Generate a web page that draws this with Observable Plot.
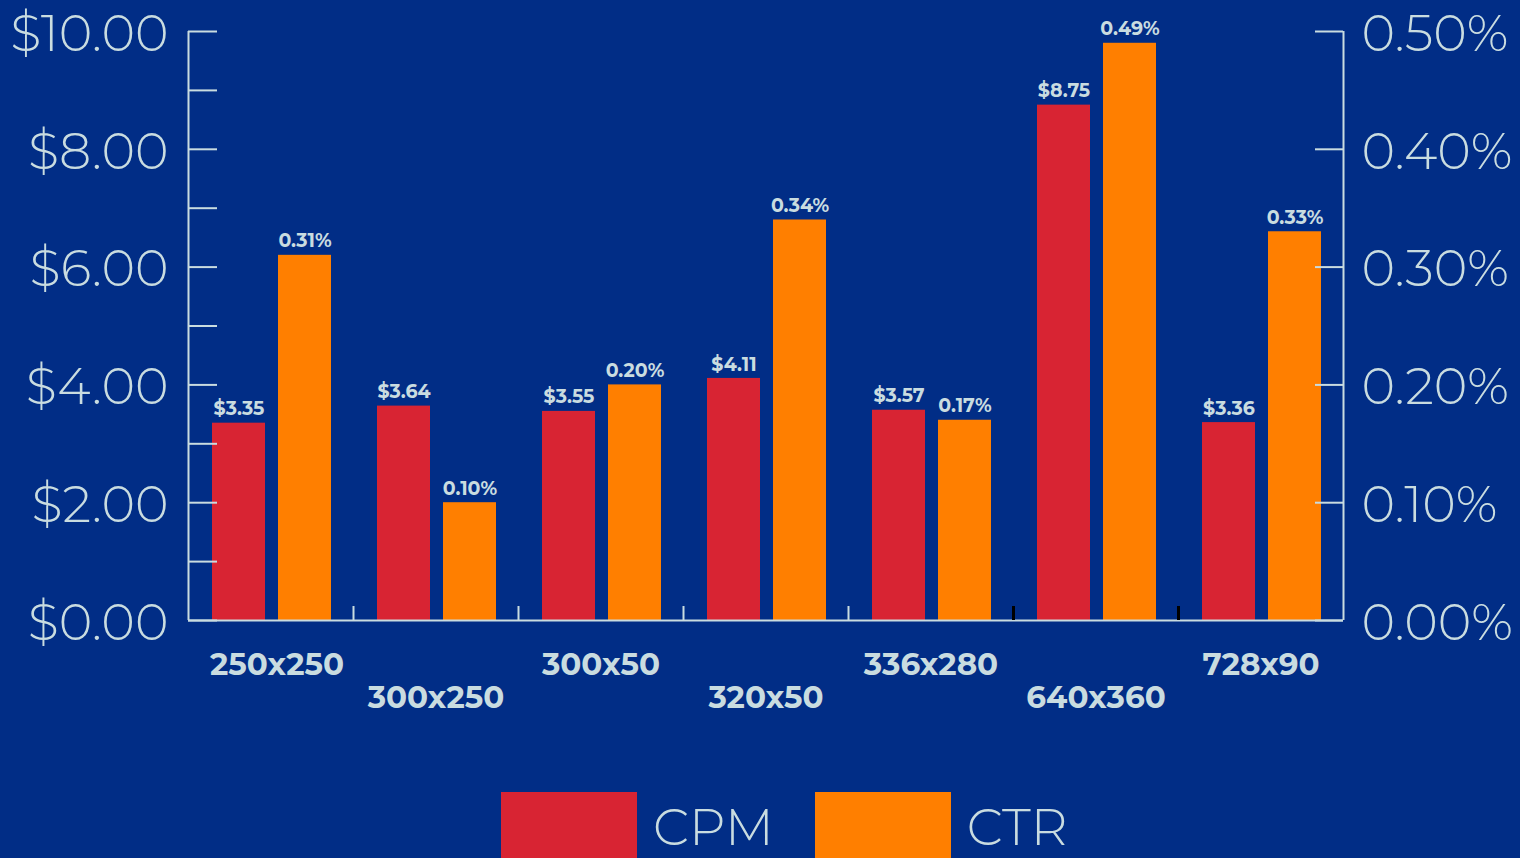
<!DOCTYPE html>
<html><head><meta charset="utf-8">
<script src="https://cdn.jsdelivr.net/npm/d3@7"></script>
<script src="https://cdn.jsdelivr.net/npm/@observablehq/plot@0.6"></script>
<style>
html,body{margin:0;padding:0;background:#012D86;overflow:hidden}
#wrap{position:relative;width:1520px;height:858px;font-family:Montserrat, Inter, sans-serif;}
#chart svg{display:block}
.legend{position:absolute;left:501px;top:792px;display:flex;align-items:center}
.sw{width:136px;height:70px}
.lab{color:#C9DCE0;font-size:51px;font-weight:300;margin-left:16px;margin-right:41px;line-height:1}
</style></head><body><div id="wrap"><div id="chart"></div><div class="legend" id="legend"></div></div>
<script>
const sizes = ["250x250","300x250","300x50","320x50","336x280","640x360","728x90"];
const cpm = [3.35, 3.64, 3.55, 4.11, 3.57, 8.75, 3.36];
const ctr = [0.31, 0.10, 0.20, 0.34, 0.17, 0.49, 0.33];
const cpmTicks = [0, 2, 4, 6, 8, 10];
const cpmMinorTicks = [0, 1, 2, 3, 4, 5, 6, 7, 8, 9, 10];
const ctrTicks = [0, 0.1, 0.2, 0.3, 0.4, 0.5];
const seriesNames = ["CPM", "CTR"];
const seriesColors = ["#D82433", "#FF7F00"];

const light = "#C9DCE0";
const W = 1520, H = 760, mL = 188, mR = 177, mT = 31, mB = 140;
const frameW = W - mL - mR, frameH = H - mT - mB;
const bw = frameW / sizes.length;
const cpmMax = 10, ctrMax = 0.5;
const ctrToY = v => v * cpmMax / ctrMax;

const rows = sizes.map((s, i) => ({size: s, cpm: cpm[i], ctr: ctr[i], i}));

const plot = Plot.plot({
  width: W, height: H,
  marginLeft: mL, marginRight: mR, marginTop: mT, marginBottom: mB,
  style: {background: "transparent", fontFamily: "Montserrat, Inter, sans-serif", color: light},
  x: {domain: sizes, padding: 0, axis: null},
  y: {domain: [0, cpmMax], axis: null},
  marks: [
    Plot.barY(rows, {x: "size", y: "cpm", fill: seriesColors[0], insetLeft: 24, insetRight: bw - 77}),
    Plot.barY(rows, {x: "size", y: d => ctrToY(d.ctr), fill: seriesColors[1], insetLeft: 90, insetRight: bw - 143}),
    Plot.text(rows, {x: "size", y: "cpm", text: d => "$" + d.cpm.toFixed(2), dx: 50.5 - bw / 2, dy: -14, fill: light, fontSize: 19, fontWeight: 700}),
    Plot.text(rows, {x: "size", y: d => ctrToY(d.ctr), text: d => d.ctr.toFixed(2) + "%", dx: 116.5 - bw / 2, dy: -14, fill: light, fontSize: 19, fontWeight: 700}),
    Plot.ruleY([0], {stroke: light, strokeWidth: 2}),
    Plot.ruleX([sizes[0]], {dx: -bw / 2, stroke: light, strokeWidth: 2}),
    Plot.ruleX([sizes[sizes.length - 1]], {dx: bw / 2, stroke: light, strokeWidth: 2}),
    Plot.ruleX(sizes.slice(1, 5), {dx: -bw / 2, insetTop: frameH - 14, stroke: light, strokeWidth: 2}),
    Plot.ruleX(sizes.slice(5), {dx: -bw / 2, insetTop: frameH - 14, stroke: "#000", strokeWidth: 3}),
    Plot.tickY(cpmMinorTicks, {y: d => d, insetRight: frameW - 29, stroke: light, strokeWidth: 2}),
    Plot.tickY(ctrTicks, {y: d => ctrToY(d), insetLeft: frameW - 28, stroke: light, strokeWidth: 2}),
    Plot.text(cpmTicks, {y: d => d, frameAnchor: "left", textAnchor: "end", dx: -20, dy: 3, text: d => "$" + d.toFixed(2), fill: light, fontSize: 51, fontWeight: 300}),
    Plot.text(ctrTicks, {y: d => ctrToY(d), frameAnchor: "right", textAnchor: "start", dx: 18, dy: 3, text: d => d.toFixed(2) + "%", fill: light, fontSize: 51, fontWeight: 300}),
    Plot.text(rows.filter(d => d.i === 0), {x: "size", frameAnchor: "bottom", dx: 6, dy: 54, text: "size", fill: light, fontSize: 31, fontWeight: 700}),
    Plot.text(rows.filter(d => d.i > 0 && d.i % 2 === 0), {x: "size", frameAnchor: "bottom", dy: 54, text: "size", fill: light, fontSize: 31, fontWeight: 700}),
    Plot.text(rows.filter(d => d.i % 2 === 1), {x: "size", frameAnchor: "bottom", dy: 87, text: "size", fill: light, fontSize: 31, fontWeight: 700})
  ]
});
document.getElementById("chart").appendChild(plot);

const lg = document.getElementById("legend");
seriesNames.forEach((n, i) => {
  const sw = document.createElement("div");
  sw.className = "sw"; sw.style.background = seriesColors[i];
  const lb = document.createElement("div");
  lb.className = "lab"; lb.textContent = n;
  lg.appendChild(sw); lg.appendChild(lb);
});
</script></body></html>
